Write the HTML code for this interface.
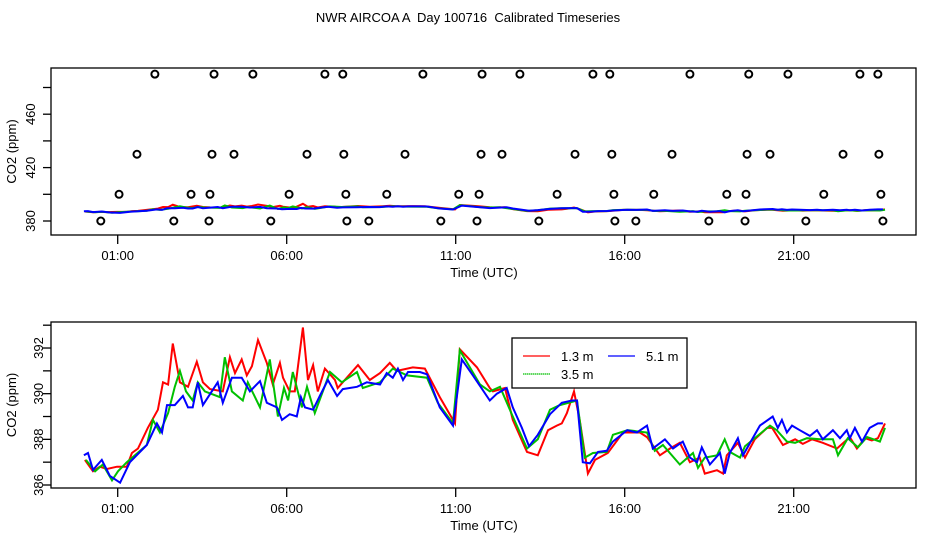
<!DOCTYPE html>
<html><head><meta charset="utf-8"><style>
html,body{margin:0;padding:0;background:#fff}
svg{display:block;font-family:"Liberation Sans",Arial,sans-serif}
</style></head><body>
<svg id="c" width="936" height="540" viewBox="0 0 936 540">
<text x="468" y="22" text-anchor="middle" font-size="13" xml:space="preserve" style="white-space:pre">NWR AIRCOA A  Day 100716  Calibrated Timeseries</text>
</svg>
<script>
// ---- data ----
const xTickHours = [1, 6, 11, 16, 21];
const xTickLabels = ["01:00", "06:00", "11:00", "16:00", "21:00"];
const topYTicks = [380, 400, 420, 440, 460, 480];
const topYLabels = [380, 420, 460];
const botYTicks = [386, 387, 388, 389, 390, 391, 392, 393];
const botYLabels = [386, 388, 390, 392];
const seriesNames = ["1.3 m", "3.5 m", "5.1 m"];

const redT = [0.03,0.27,0.47,0.68,0.98,1.27,1.42,1.60,1.89,2.19,2.34,2.49,2.63,2.84,3.08,3.34,3.52,3.73,4.11,4.32,4.47,4.67,4.82,4.97,5.15,5.41,5.59,5.80,5.89,6.09,6.24,6.48,6.63,6.78,6.92,7.13,7.43,7.51,8.11,8.46,8.76,9.05,9.26,9.73,10.09,10.53,10.98,11.12,11.63,12.01,12.10,12.46,12.69,13.11,13.43,13.73,13.99,14.14,14.29,14.50,14.67,14.91,15.12,15.50,15.95,16.45,16.66,17.04,17.34,17.63,17.93,18.22,18.37,18.73,18.91,19.02,19.35,19.56,19.85,20.21,20.36,20.68,21.04,21.27,21.54,21.86,22.28,22.66,22.87,23.11,23.31,23.49,23.70];
const redV = [387.1,386.6,386.8,386.7,386.8,386.8,387.4,387.6,388.5,389.3,390.5,390.4,392.2,390.5,390.3,391.4,390.5,390.2,390.1,391.6,390.9,391.5,390.8,391.2,392.35,391.35,390.4,391.35,390.7,390.1,390.1,392.9,390.6,391.25,390.1,391.1,390.6,390.25,391.25,390.6,390.9,391.35,391.0,391.15,391.1,389.85,388.7,391.95,391.15,390.25,390.1,390.25,388.85,387.45,387.3,388.4,388.6,388.7,389.15,390.1,388.85,386.5,387.1,387.4,388.3,388.3,388.1,387.3,387.6,387.85,387.0,387.2,386.5,386.65,386.5,387.3,387.85,387.2,388.0,388.5,388.5,387.75,388.0,387.8,388.0,387.85,387.6,388.1,387.6,388.05,387.95,388.05,388.7];

const greenT = [0.06,0.33,0.56,0.83,1.01,1.27,1.86,2.04,2.25,2.49,2.69,2.84,3.02,3.22,3.37,3.58,4.02,4.17,4.38,4.70,4.85,5.21,5.50,5.74,5.92,6.04,6.18,6.45,6.60,6.83,7.28,7.63,8.08,8.25,8.76,9.14,9.56,10.15,10.47,10.92,11.12,11.72,12.01,12.31,12.69,13.11,13.43,13.79,14.08,14.59,14.82,15.06,15.47,15.65,16.09,16.66,16.89,17.13,17.63,18.02,18.17,18.37,18.73,18.96,19.11,19.41,19.56,20.30,20.50,20.80,21.04,21.39,21.78,22.16,22.31,22.60,22.90,23.17,23.55,23.70];
const greenV = [387.1,386.6,386.9,386.2,386.6,387.0,387.75,388.85,388.3,389.15,390.3,391.0,390.1,389.7,390.5,390.1,389.85,391.6,390.1,389.7,390.5,389.4,391.5,389.0,390.25,389.7,390.95,389.4,390.3,389.15,390.95,390.5,390.95,390.25,390.5,391.1,390.8,390.7,389.6,388.7,391.9,390.4,390.1,390.3,389.0,387.6,388.0,389.3,389.5,389.7,387.2,387.4,387.45,388.2,388.4,388.3,387.5,387.75,386.9,387.4,386.75,387.2,387.3,388.0,387.45,387.2,387.7,388.6,388.4,387.9,387.85,388.05,388.0,388.0,387.3,388.05,387.65,388.1,387.9,388.5];

const blueT = [0.0,0.12,0.27,0.53,0.77,1.07,1.36,1.86,2.16,2.31,2.46,2.69,2.93,3.08,3.22,3.37,3.52,3.96,4.11,4.38,4.67,4.91,5.21,5.41,5.71,5.86,6.09,6.30,6.42,6.54,6.78,6.98,7.22,7.49,7.66,8.08,8.37,8.76,8.96,9.14,9.29,9.44,9.59,9.94,10.15,10.53,10.92,11.18,11.51,12.01,12.22,12.51,12.69,12.96,13.17,13.43,13.79,14.14,14.44,14.59,14.76,14.97,15.21,15.47,15.65,16.07,16.36,16.66,16.83,17.19,17.43,17.72,17.93,18.14,18.28,18.52,18.82,18.96,19.11,19.35,19.50,20.00,20.38,20.53,20.65,20.80,20.95,21.18,21.48,21.69,21.86,22.16,22.37,22.57,22.66,22.81,23.02,23.25,23.49,23.64];
const blueV = [387.3,387.4,386.66,387.1,386.4,386.1,387.0,387.75,388.7,388.3,389.5,389.5,389.9,389.4,389.4,390.5,389.5,390.5,389.6,390.7,390.7,390.1,390.55,389.6,389.4,388.85,389.1,389.0,389.85,389.4,389.3,389.9,390.6,389.9,390.2,390.3,390.5,390.4,390.9,390.7,391.1,390.6,390.95,390.95,390.85,389.4,388.6,391.5,390.8,389.7,390.0,390.25,389.4,388.5,387.7,388.2,389.1,389.6,389.7,389.7,387.0,386.95,387.45,387.5,387.9,388.4,388.3,388.6,387.6,388.0,387.6,387.9,387.2,387.0,387.65,386.9,387.4,386.5,387.4,388.05,387.3,388.6,389.0,388.5,388.85,388.3,388.6,388.4,388.15,388.4,388.0,388.4,388.05,388.4,388.05,388.5,387.9,388.5,388.7,388.7];

const flagT = [2.10,3.85,5.00,7.13,7.66,10.03,11.78,12.90,15.06,15.56,17.93,19.67,20.83,22.96,23.49,
 1.57,3.79,4.44,6.60,7.69,9.50,11.75,12.37,14.53,15.62,17.40,19.62,20.30,22.46,23.52,
 1.04,3.17,3.73,6.07,7.75,8.96,11.09,11.69,14.00,15.68,16.86,19.02,19.59,21.89,23.58,
 0.50,2.66,3.70,5.53,7.78,8.43,10.56,11.63,13.46,15.71,16.33,18.49,19.56,21.36,23.64];
const flagV = [490,490,490,490,490,490,490,490,490,490,490,490,490,490,490,
 430,430,430,430,430,430,430,430,430,430,430,430,430,430,430,
 400,400,400,400,400,400,400,400,400,400,400,400,400,400,400,
 380,380,380,380,380,380,380,380,380,380,380,380,380,380,380];

// ---- drawing ----
const NS = "http://www.w3.org/2000/svg";
const svg = document.getElementById("c");
function mk(tag, attrs, parent) {
  const e = document.createElementNS(NS, tag);
  for (const k in attrs) e.setAttribute(k, attrs[k]);
  (parent || svg).appendChild(e);
  return e;
}
const L = 51, R = 916;
const xScale = h => 83.9 + h * 33.8;
const panels = [
  {top: 68, bot: 235, y: v => 221 - (v - 380) * 1.335, ticks: topYTicks, labels: topYLabels, labX: 30, name: "top"},
  {top: 322, bot: 488, y: v => 485 - (v - 386) * 22.83, ticks: botYTicks, labels: botYLabels, labX: 38, name: "bottom"}
];
const colors = {red: "#ff0000", green: "#00c000", blue: "#0000ff"};
const sets = [["red", redT, redV], ["green", greenT, greenV], ["blue", blueT, blueV]];

panels.forEach(p => {
  const g = mk("g", {});
  
  
  const clipId = "clip-" + p.name;
  const cp = mk("clipPath", {id: clipId}, g);
  mk("rect", {x: L, y: p.top, width: R - L, height: p.bot - p.top}, cp);
  sets.forEach(([col, T, V]) => {
    const d = T.map((t, i) => (i ? "L" : "M") + xScale(t).toFixed(1) + "," + p.y(V[i]).toFixed(1)).join(" ");
    const path = mk("path", {d: d, fill: "none", stroke: colors[col], "stroke-width": 2, "stroke-linejoin": "miter", "clip-path": "url(#" + clipId + ")"}, g);
    
    
  });
  if (p.name === "top") {
    flagT.forEach((t, i) => {
      const c = mk("circle", {cx: xScale(t), cy: p.y(flagV[i]), r: 3.5, fill: "none", stroke: "#000", "stroke-width": 2}, g);
      
      
    });
  }
  const box = mk("rect", {x: L, y: p.top, width: R - L, height: p.bot - p.top, fill: "none", stroke: "#000", "stroke-width": 1.3}, g);
  
  
  xTickHours.forEach((h, i) => {
    const x = xScale(h);
    mk("line", {x1: x, x2: x, y1: p.bot, y2: p.bot + 9, stroke: "#000", "stroke-width": 1.3}, g);
    const t = mk("text", {x: x, y: p.bot + 25, "text-anchor": "middle", "font-size": 13}, g);
    t.textContent = xTickLabels[i];
    
    
  });
  const xt = mk("text", {x: 484, y: p.bot + 42, "text-anchor": "middle", "font-size": 13}, g);
  xt.textContent = "Time (UTC)";
  
  
  p.ticks.forEach(v => {
    mk("line", {x1: L - 8, x2: L, y1: p.y(v), y2: p.y(v), stroke: "#000", "stroke-width": 1.3}, g);
  });
  p.labels.forEach(v => {
    const y = p.y(v);
    const t = mk("text", {x: 0, y: 0, "text-anchor": "middle", "font-size": 13, transform: "translate(" + (p.labX + 5) + "," + y + ") rotate(-90)"}, g);
    t.textContent = v;
    
    
  });
  const yt = mk("text", {x: 0, y: 0, "text-anchor": "middle", "font-size": 13, transform: "translate(16," + ((p.top + p.bot) / 2) + ") rotate(-90)"}, g);
  yt.textContent = "CO2 (ppm)";
  
  
});

const lg = mk("g", {});


mk("rect", {x: 512, y: 338, width: 175, height: 50, fill: "#fff", stroke: "#000", "stroke-width": 1.3}, lg);
const legendPos = [[523, 356, "red"], [523, 374, "green"], [608, 356, "blue"]];
legendPos.forEach(([x, y, col], i) => {
  const ln = mk("line", {x1: x, x2: x + 27, y1: y, y2: y, stroke: colors[col], "stroke-width": 1.3, "stroke-dasharray": col === "green" ? "1.5,0.5" : "none"}, lg);
  
  
  const t = mk("text", {x: x + 38, y: y + 5, "font-size": 13}, lg);
  t.textContent = seriesNames[i];
  
  
});
</script>
</body></html>
